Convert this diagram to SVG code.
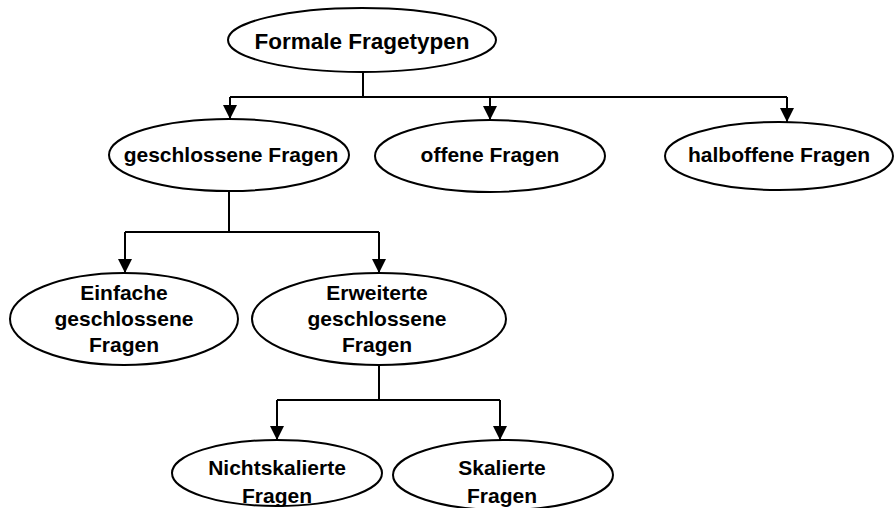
<svg xmlns="http://www.w3.org/2000/svg" width="894" height="508" viewBox="0 0 894 508">
<style>
.n ellipse{fill:#fff;stroke:#000;stroke-width:2}
.n text{font-family:"Liberation Sans",Arial,sans-serif;font-weight:bold;font-size:21px;text-anchor:middle;fill:#000}
.c{fill:none;stroke:#000;stroke-width:2}
</style>
<defs>
<marker id="ah" markerUnits="userSpaceOnUse" markerWidth="14" markerHeight="14" viewBox="0 0 14 14" refX="14" refY="7" orient="auto">
<path d="M0,0 L14,7 L0,14 Z" fill="#000"/>
</marker>
</defs>
<g id="connectors">
<path class="c" d="M363,72 V97 M230,97 H787"/>
<path class="c" d="M230,97 V119" marker-end="url(#ah)"/>
<path class="c" d="M490,97 V120" marker-end="url(#ah)"/>
<path class="c" d="M787,97 V122" marker-end="url(#ah)"/>
<path class="c" d="M229,191 V232 M125,232 H379"/>
<path class="c" d="M125,232 V273" marker-end="url(#ah)"/>
<path class="c" d="M379,232 V273" marker-end="url(#ah)"/>
<path class="c" d="M379,365 V400 M277,400 H500"/>
<path class="c" d="M277,400 V440" marker-end="url(#ah)"/>
<path class="c" d="M500,400 V440" marker-end="url(#ah)"/>
</g>
<g id="formale" class="n">
<ellipse cx="362" cy="40" rx="134" ry="32"/>
<text x="362" y="49" style="font-size:22.5px">Formale Fragetypen</text>
</g>
<g id="geschlossen" class="n">
<ellipse cx="229" cy="155" rx="120" ry="36"/>
<text x="231" y="162">geschlossene Fragen</text>
</g>
<g id="offen" class="n">
<ellipse cx="490" cy="156" rx="115" ry="36"/>
<text x="490" y="162">offene Fragen</text>
</g>
<g id="halboffen" class="n">
<ellipse cx="779" cy="156" rx="114" ry="34"/>
<text x="779" y="162">halboffene Fragen</text>
</g>
<g id="einfach" class="n">
<ellipse cx="124" cy="319" rx="114" ry="46"/>
<text x="124" y="300">Einfache</text>
<text x="124" y="326">geschlossene</text>
<text x="124" y="352">Fragen</text>
</g>
<g id="erweitert" class="n">
<ellipse cx="379" cy="319" rx="127" ry="46"/>
<text x="377" y="300">Erweiterte</text>
<text x="377" y="326">geschlossene</text>
<text x="377" y="352">Fragen</text>
</g>
<g id="nichtskaliert" class="n">
<ellipse cx="277" cy="473" rx="105" ry="33"/>
<text x="277" y="475">Nichtskalierte</text>
<text x="277" y="503">Fragen</text>
</g>
<g id="skaliert" class="n">
<ellipse cx="503" cy="475" rx="110" ry="35"/>
<text x="502" y="475">Skalierte</text>
<text x="502" y="503">Fragen</text>
</g>
</svg>
